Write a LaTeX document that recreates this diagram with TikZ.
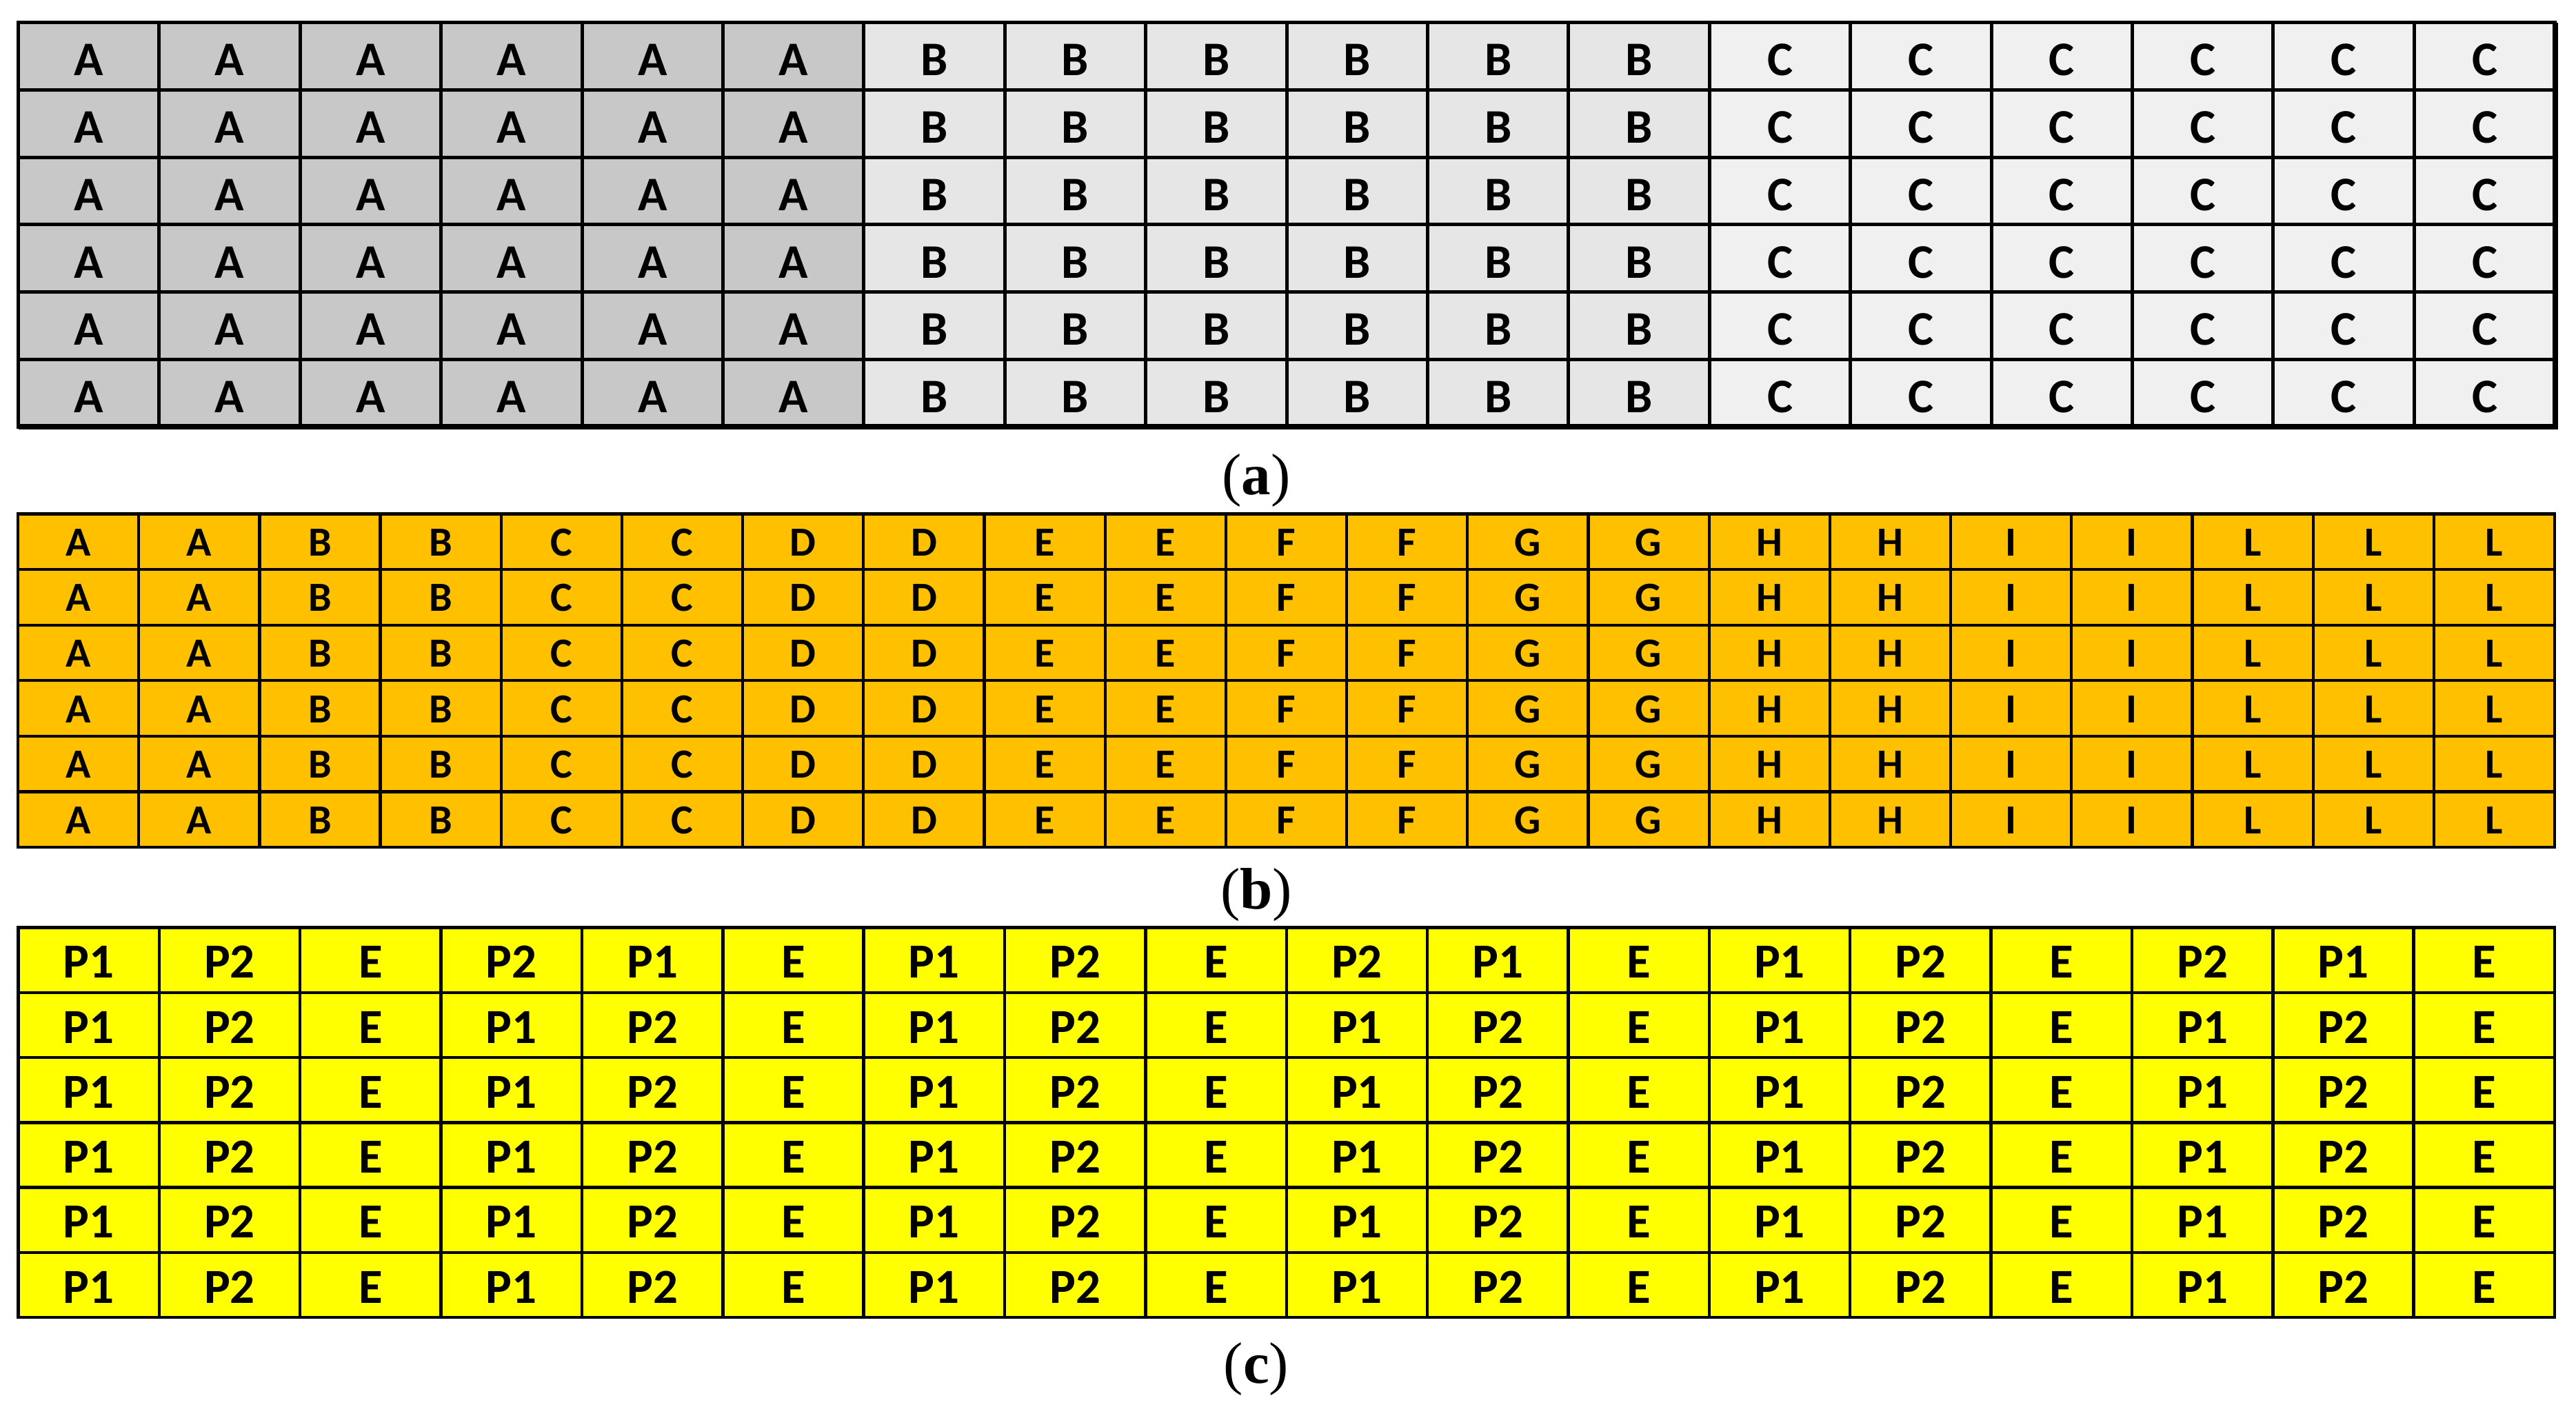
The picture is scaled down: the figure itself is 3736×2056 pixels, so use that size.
\documentclass[tikz,border=0pt]{standalone}
\usepackage{fontspec}
\setmainfont{Liberation Serif}
\newfontfamily\cellfont{Carlito}
\definecolor{ga}{HTML}{C8C8C8}
\definecolor{gb}{HTML}{E6E6E6}
\definecolor{gc}{HTML}{F0F0F0}
\definecolor{orng}{HTML}{FFC000}
\definecolor{yel}{HTML}{FFFF00}
\begin{document}
\begin{tikzpicture}[x=1pt,y=-1pt]
\path[use as bounding box] (0,0) rectangle (3736,2056);
\tikzset{
  cellbase/.style={draw, inner sep=0pt, outer sep=0pt, text depth=0pt},
  cella/.style={cellbase, line width=5pt, minimum width=204.4pt, minimum height=97.75pt,
    font={\cellfont\bfseries\fontsize{70}{70}\selectfont}, text height=57pt},
  cellb/.style={cellbase, fill=orng, line width=4.3pt, minimum width=175.19pt, minimum height=80.58pt,
    font={\cellfont\bfseries\fontsize{60}{60}\selectfont}, text height=41pt},
  cellc/.style={cellbase, fill=yel, line width=4.5pt, minimum width=204.36pt, minimum height=94.25pt,
    font={\cellfont\bfseries\fontsize{71}{71}\selectfont}, text height=52.5pt},
  caption/.style={inner sep=0pt, font={\fontsize{85}{85}\selectfont}}
}
% (a)
\foreach \r in {0,...,5}{
  \foreach \c/\l/\f in {0/A/ga,1/A/ga,2/A/ga,3/A/ga,4/A/ga,5/A/ga,
                        6/B/gb,7/B/gb,8/B/gb,9/B/gb,10/B/gb,11/B/gb,
                        12/C/gc,13/C/gc,14/C/gc,15/C/gc,16/C/gc,17/C/gc}{
    \node[cella, fill=\f] (a-\r-\c) at ({26.5+204.4*(\c+0.5)},{32.5+97.75*(\r+0.5)}) {\l};
  }
}
\draw[line width=8pt] (a-0-17.north east) -- (a-5-17.south east) -- (a-5-0.south west);
\node[caption] (la) at (1822,697) {(\textbf{a})};
% (b)
\foreach \r in {0,...,5}{
  \foreach \c/\l in {0/A,1/A,2/B,3/B,4/C,5/C,6/D,7/D,8/E,9/E,10/F,11/F,12/G,13/G,14/H,15/H,16/I,17/I,18/L,19/L,20/L}{
    \node[cellb] (b-\r-\c) at ({26+175.19*(\c+0.5)},{745.5+80.58*(\r+0.5)}) {\l};
  }
}
\node[caption] (lb) at (1822,1298) {(\textbf{b})};
% (c)
\foreach \c/\l in {0/P1,1/P2,2/E,3/P2,4/P1,5/E,6/P1,7/P2,8/E,9/P2,10/P1,11/E,12/P1,13/P2,14/E,15/P2,16/P1,17/E}{
  \node[cellc] (c-0-\c) at ({26.5+204.36*(\c+0.5)},{1345.5+94.25*0.5}) {\l};
}
\foreach \r in {1,...,5}{
  \foreach \c/\l in {0/P1,1/P2,2/E,3/P1,4/P2,5/E,6/P1,7/P2,8/E,9/P1,10/P2,11/E,12/P1,13/P2,14/E,15/P1,16/P2,17/E}{
    \node[cellc] (c-\r-\c) at ({26.5+204.36*(\c+0.5)},{1345.5+94.25*(\r+0.5)}) {\l};
  }
}
\node[caption] (lc) at (1822,1986) {(\textbf{c})};
\end{tikzpicture}
\end{document}
